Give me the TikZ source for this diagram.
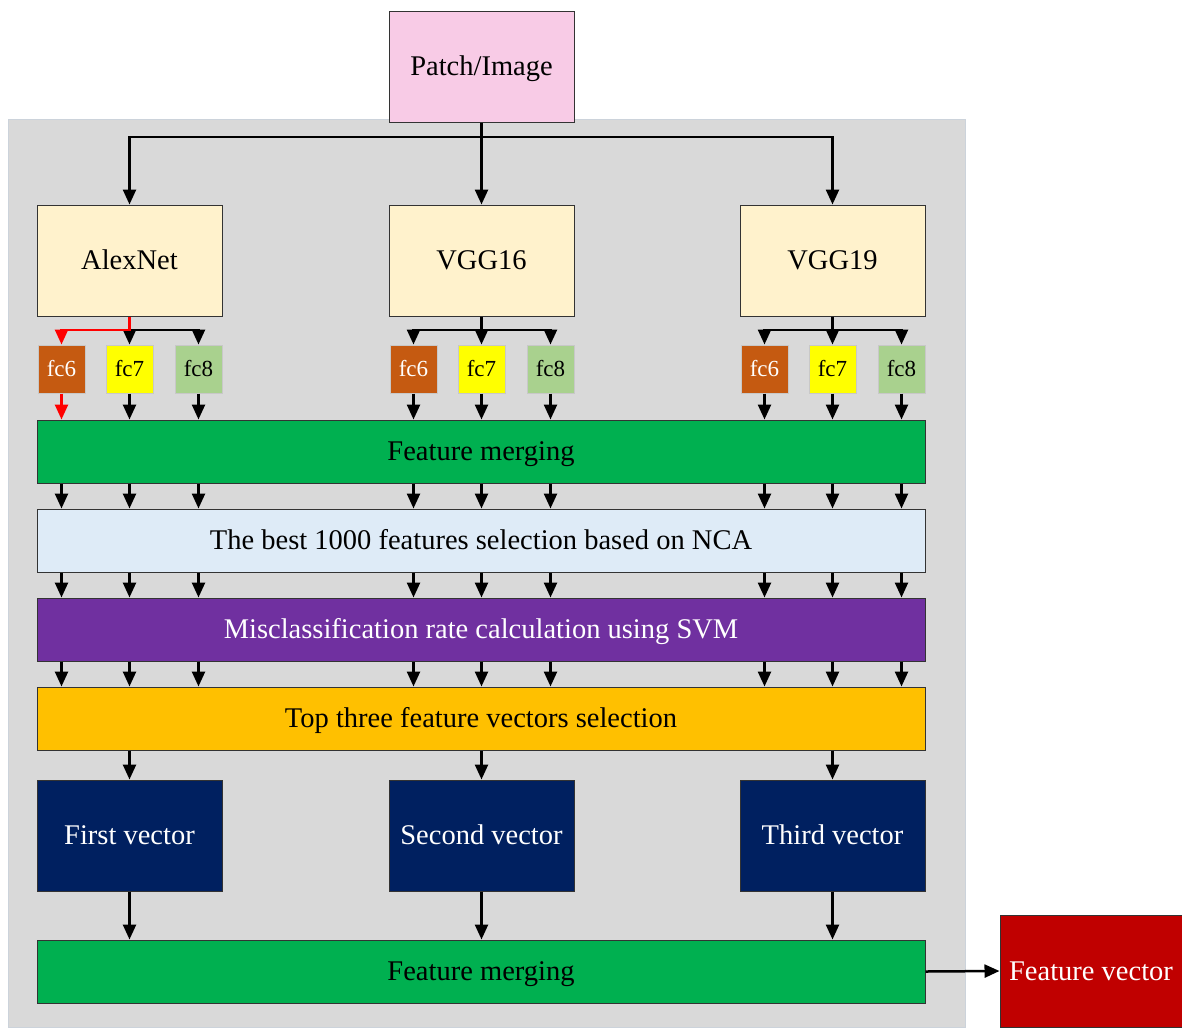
\documentclass[tikz,border=0pt]{standalone}
\usepackage{fontspec}
\setmainfont{Liberation Serif}
\usetikzlibrary{arrows.meta}
\definecolor{pinkc}{HTML}{F8CBE6}
\definecolor{cream}{HTML}{FFF2CC}
\definecolor{fcsix}{HTML}{C55A11}
\definecolor{fcseven}{HTML}{FFFF00}
\definecolor{fceight}{HTML}{A9D18E}
\definecolor{mergec}{HTML}{00B050}
\definecolor{ncac}{HTML}{DEEBF7}
\definecolor{misc}{HTML}{7030A0}
\definecolor{topc}{HTML}{FFC000}
\definecolor{vecc}{HTML}{002060}
\definecolor{fvc}{HTML}{C00000}
\definecolor{bggray}{HTML}{D9D9D9}
\definecolor{bgline}{HTML}{CCD3DB}
\definecolor{boxline}{HTML}{333333}
\definecolor{fcline}{HTML}{C8C8C8}
\begin{document}
\begin{tikzpicture}[x=1pt,y=-1pt,
  line join=miter,
  bigfont/.style={font=\fontsize{28.5}{34}\selectfont,text height=18.8pt,text depth=0pt},
  box/.style={draw=boxline,line width=1pt,minimum width=185pt,minimum height=111pt,inner sep=0pt,bigfont},
  band/.style={draw=boxline,line width=1pt,minimum width=888pt,minimum height=63pt,inner sep=0pt,bigfont},
  fcbox/.style={draw=fcline,line width=1pt,minimum width=47pt,minimum height=48pt,inner sep=0pt,font=\fontsize{23}{28}\selectfont,text height=15.6pt,text depth=0pt},
  arr/.style={line width=2.5pt,-{Triangle[length=15pt,width=13pt]}}]
\useasboundingbox (0,0) rectangle (1182,1028);
\node[draw=bgline,fill=bggray,line width=1pt,minimum width=957pt,minimum height=908pt,inner sep=0pt] (bg) at (486.5,573) {};

\node[box,fill=pinkc] (patch) at (481.5,66.5) {Patch/Image};

\node[box,fill=cream] (alex) at (129.5,260.5) {AlexNet};
\node[box,fill=cream] (vggA) at (481.5,260.5) {VGG16};
\node[box,fill=cream] (vggB) at (832.5,260.5) {VGG19};

\node[fcbox,fill=fcsix,text=white] (a6) at (61.5,369) {fc6};
\node[fcbox,fill=fcseven] (a7) at (129.5,369) {fc7};
\node[fcbox,fill=fceight] (a8) at (198.5,369) {fc8};
\node[fcbox,fill=fcsix,text=white] (b6) at (413.5,369) {fc6};
\node[fcbox,fill=fcseven] (b7) at (481.5,369) {fc7};
\node[fcbox,fill=fceight] (b8) at (550.5,369) {fc8};
\node[fcbox,fill=fcsix,text=white] (c6) at (764.5,369) {fc6};
\node[fcbox,fill=fcseven] (c7) at (832.5,369) {fc7};
\node[fcbox,fill=fceight] (c8) at (901.5,369) {fc8};

\node[band,fill=mergec] (merge1) at (481,451.5) {Feature merging};
\node[band,fill=ncac] (nca) at (481,540.5) {The best 1000 features selection based on NCA};
\node[band,fill=misc,text=white] (mis) at (481,629.5) {Misclassification rate calculation using SVM};
\node[band,fill=topc] (top) at (481,718.5) {Top three feature vectors selection};

\node[box,fill=vecc,text=white] (v1) at (129.5,835.5) {First vector};
\node[box,fill=vecc,text=white] (v2) at (481.5,835.5) {Second vector};
\node[box,fill=vecc,text=white] (v3) at (832.5,835.5) {Third vector};

\node[band,fill=mergec] (merge2) at (481,971.5) {Feature merging};
\node[draw=boxline,line width=1pt,fill=fvc,text=white,minimum width=182pt,minimum height=112pt,inner sep=0pt,bigfont] (fv) at (1091,971) {Feature vector};

% top split
\coordinate (j0) at (481.5,137);
\draw[arr] (patch.south) -- (vggA.north);
\draw[arr] (j0) -| (alex.north);
\draw[arr] (j0) -| (vggB.north);

% network -> fc
\coordinate (jA) at (129.5,330);
\coordinate (jB) at (481.5,330);
\coordinate (jC) at (832.5,330);
\draw[arr] (jA) -- (a7.north);
\draw[arr] (jA) -| (a8.north);
\draw[arr,red] (alex.south) -- (jA) -| (a6.north);
\draw[arr] (vggA.south) -- (b7.north);
\draw[arr] (jB) -| (b6.north);
\draw[arr] (jB) -| (b8.north);
\draw[arr] (vggB.south) -- (c7.north);
\draw[arr] (jC) -| (c6.north);
\draw[arr] (jC) -| (c8.north);

% fc -> merge
\draw[arr,red] (a6.south) -- (merge1.north -| a6);
\foreach \n in {a7,a8,b6,b7,b8,c6,c7,c8}{
  \draw[arr] (\n.south) -- (merge1.north -| \n);
}
\foreach \n in {a6,a7,a8,b6,b7,b8,c6,c7,c8}{
  \draw[arr] (merge1.south -| \n) -- (nca.north -| \n);
  \draw[arr] (nca.south -| \n) -- (mis.north -| \n);
  \draw[arr] (mis.south -| \n) -- (top.north -| \n);
}

\foreach \v in {v1,v2,v3}{
  \draw[arr] (top.south -| \v) -- (\v.north);
  \draw[arr] (\v.south) -- (merge2.north -| \v);
}
\draw[arr] (merge2.east) -- (fv.west);
\end{tikzpicture}
\end{document}
